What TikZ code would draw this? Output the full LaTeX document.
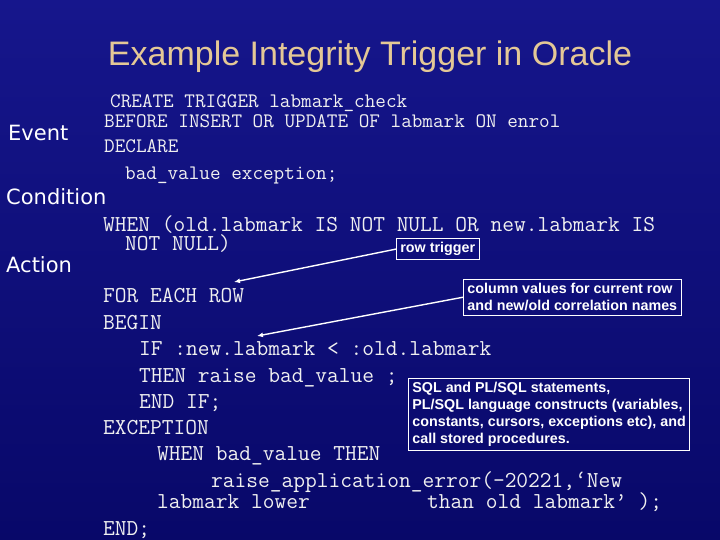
\documentclass[tikz,border=0pt]{standalone}
\usepackage{fontspec}
\setmainfont{Liberation Sans}
\newfontfamily\labfont{DejaVu Sans}
\usetikzlibrary{arrows.meta}
\definecolor{bgtop}{RGB}{22,22,140}
\definecolor{bgbot}{RGB}{8,8,105}
\definecolor{titlecol}{RGB}{228,200,150}
\definecolor{codecol}{RGB}{240,240,240}
\tikzset{
  code/.style={anchor=base west,inner sep=0pt,text=codecol,font=\ttfamily\fontsize{22.8}{22.8}\selectfont},
  codes/.style={code,font=\ttfamily\fontsize{20.6}{20.6}\selectfont},
  lab/.style={anchor=base west,inner sep=0pt,text=white,font=\labfont\fontsize{21}{21}\selectfont},
  note/.style={draw=white,line width=0.8pt,text=white,font=\bfseries\fontsize{14.3}{17}\selectfont,align=left,inner sep=4pt,anchor=north west},
  arr/.style={white,line width=1.4pt,-{Latex[length=6pt,width=5pt]}}
}
\begin{document}
\begin{tikzpicture}[x=1pt,y=-1pt]
\shade[top color=bgtop,bottom color=bgbot] (0,0) rectangle (720,540);
\useasboundingbox (0,0) rectangle (720,540);
\node[anchor=base,text=titlecol,font=\fontsize{34}{34}\selectfont] (title) at (370,66) {Example Integrity Trigger in Oracle};
\node[lab] (ev) at (8,141) {Event};
\node[lab] (cond) at (6,205) {Condition};
\node[lab] (act) at (6,272) {Action};
\node[codes] (c1) at (110,108) {CREATE TRIGGER labmark\_check};
\node[codes] (c2) at (104,128) {BEFORE INSERT OR UPDATE OF labmark ON enrol};
\node[codes] (c3) at (104,153) {DECLARE};
\node[codes] (c4) at (125,180) {bad\_value exception;};
\node[code] (c5) at (103,232) {WHEN (old.labmark IS NOT NULL OR new.labmark IS};
\node[code] (c6) at (125,251) {NOT NULL)};
\node[code] (c7) at (103,302) {FOR EACH ROW};
\node[code] (c8) at (103,329) {BEGIN};
\node[code] (c9) at (139,355) {IF :new.labmark < :old.labmark};
\node[code] (c10) at (139,382) {THEN raise bad\_value ;};
\node[code] (c11) at (139,408) {END IF;};
\node[code] (c12) at (103,434) {EXCEPTION};
\node[code] (c13) at (157,460) {WHEN bad\_value THEN};
\node[code] (c14) at (211,487) {raise\_application\_error(-20221,‘New};
\node[code] (c15) at (157,508) {labmark lower};
\node[code] (c16) at (427,508) {than old labmark’ );};
\node[code] (c17) at (103,535) {END;};
\node[note] (n1) at (396,238) {row trigger};
\node[note] (n2) at (463,279) {column values for current row\\and new/old correlation names};
\node[note] (n3) at (408,378) {SQL and PL/SQL statements,\\PL/SQL language constructs (variables,\\constants, cursors, exceptions etc), and\\call stored procedures.};
\coordinate (t1) at (234,282);
\coordinate (t2) at (257,336);
\draw[arr] (n1.west) -- (t1);
\draw[arr] (n2.west) -- (t2);
\end{tikzpicture}
\end{document}
